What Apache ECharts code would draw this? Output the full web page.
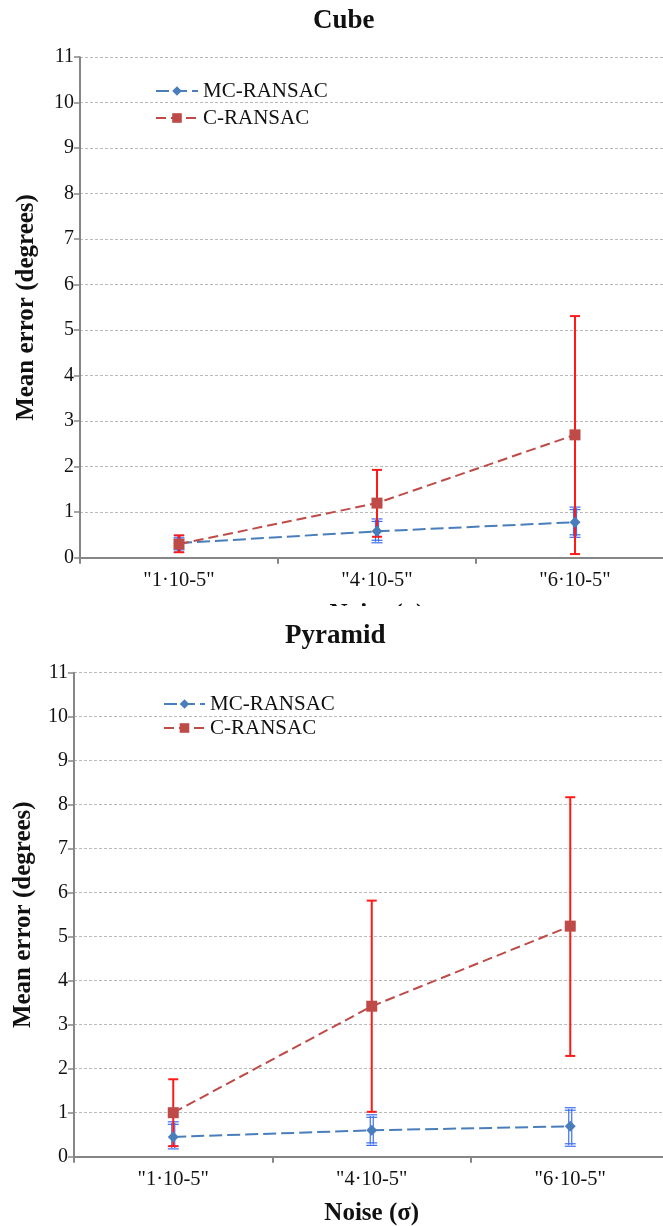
<!DOCTYPE html>
<html>
<head>
<meta charset="utf-8">
<script src="https://cdn.jsdelivr.net/npm/echarts@6/dist/echarts.min.js"></script>
<style>html,body{margin:0;padding:0;background:#fff}#c{width:663px;height:1226px}</style>
</head>
<body>
<div id="c"></div>
<script>
const categories = ['"1·10-5"', '"4·10-5"', '"6·10-5"'];
const seriesNames = ['MC-RANSAC', 'C-RANSAC'];
const yTicks = [0, 11, 1];

const cubeMC = [0.32, 0.58, 0.78];
const cubeMCLow = [0.14, 0.35, 0.47];
const cubeMCHigh = [0.47, 0.83, 1.09];
const cubeC = [0.30, 1.20, 2.70];
const cubeCLow = [0.12, 0.46, 0.08];
const cubeCHigh = [0.49, 1.93, 5.31];

const pyrMC = [0.45, 0.60, 0.69];
const pyrMCLow = [0.20, 0.28, 0.26];
const pyrMCHigh = [0.77, 0.93, 1.09];
const pyrC = [1.00, 3.42, 5.24];
const pyrCLow = [0.24, 1.02, 2.29];
const pyrCHigh = [1.76, 5.82, 8.17];

const FONT = '"Liberation Serif", "DejaVu Serif", serif';
const BLUE = '#4a7ebb';
const RED = '#be4b48';
const EBLUE = '#3d6ff0';
const ERED = '#ff1a1a';

function errData(low, high) {
  return categories.map((c, i) => [i, low[i], high[i]]);
}

function errRender(color, doubled) {
  return function (params, api) {
    const x = api.value(0);
    const lo = api.coord([x, api.value(1)]);
    const hi = api.coord([x, api.value(2)]);
    const cx = lo[0];
    const hw = doubled ? 5.5 : 5;
    const children = [];
    const st = { stroke: color, lineWidth: doubled ? 1.2 : 2 };
    if (doubled) {
      children.push({ type: 'line', shape: { x1: cx - 1.5, y1: hi[1], x2: cx - 1.5, y2: lo[1] }, style: st });
      children.push({ type: 'line', shape: { x1: cx + 1.5, y1: hi[1], x2: cx + 1.5, y2: lo[1] }, style: st });
      [hi[1] - 1, hi[1] + 1.5, lo[1] - 1.5, lo[1] + 1].forEach(y => {
        children.push({ type: 'line', shape: { x1: cx - hw, y1: y, x2: cx + hw, y2: y }, style: st });
      });
    } else {
      children.push({ type: 'line', shape: { x1: cx, y1: hi[1], x2: cx, y2: lo[1] }, style: st });
      [hi[1], lo[1]].forEach(y => {
        children.push({ type: 'line', shape: { x1: cx - hw, y1: y, x2: cx + hw, y2: y }, style: st });
      });
    }
    return { type: 'group', children: children };
  };
}

function xAxisCfg(gridIndex) {
  return {
    type: 'category', gridIndex: gridIndex, data: categories,
    boundaryGap: true,
    axisLine: { lineStyle: { color: '#868686', width: 2 } },
    axisTick: { show: true, alignWithLabel: false, length: 6, lineStyle: { color: '#868686', width: 2 } },
    axisLabel: { color: '#111', fontFamily: FONT, fontSize: 20.5, margin: 12 },
    name: 'Noise (σ)', nameLocation: 'middle', nameGap: 44,
    nameTextStyle: { fontFamily: FONT, fontSize: 25, fontWeight: 'bold', color: '#111' },
    splitLine: { show: false }
  };
}

function yAxisCfg(gridIndex, nameGap) {
  return {
    type: 'value', gridIndex: gridIndex, min: yTicks[0], max: yTicks[1], interval: yTicks[2],
    axisLine: { show: true, lineStyle: { color: '#868686', width: 2 } },
    axisTick: { show: true, length: 6, lineStyle: { color: '#868686', width: 1.5 } },
    axisLabel: { color: '#111', fontFamily: FONT, fontSize: 20, margin: 6 },
    splitLine: { show: true, lineStyle: { color: '#b9b9b9', type: [3, 2], width: 1 } },
    name: 'Mean error (degrees)', nameLocation: 'middle', nameGap: nameGap, nameRotate: 90,
    nameTextStyle: { fontFamily: FONT, fontSize: 25, fontWeight: 'bold', color: '#111' }
  };
}

function lineSeries(name, data, gi, color, symbol, size, dash) {
  return {
    type: 'line', name: name, data: data, xAxisIndex: gi, yAxisIndex: gi,
    symbol: symbol, symbolSize: size, z: 5,
    itemStyle: { color: color },
    lineStyle: { color: color, width: 2, type: dash },
    emphasis: { disabled: true }, animation: false
  };
}

function errSeries(low, high, gi, color, doubled) {
  return {
    type: 'custom', xAxisIndex: gi, yAxisIndex: gi, z: 3,
    data: errData(low, high), renderItem: errRender(color, doubled),
    silent: true, animation: false
  };
}

function legendCfg(left, top, w, gap) {
  return {
    data: seriesNames, orient: 'vertical', left: left, top: top,
    itemWidth: w, itemHeight: 12, itemGap: gap, selectedMode: false,
    textStyle: { fontFamily: FONT, fontSize: 21, color: '#111', lineHeight: 22 }
  };
}

const chart = echarts.init(document.getElementById('c'), null, { renderer: 'canvas' });
chart.setOption({
  backgroundColor: '#fff',
  animation: false,
  title: [
    { text: 'Cube', left: 308, top: 3, textStyle: { fontFamily: FONT, fontSize: 27, fontWeight: 'bold', color: '#111' } }
  ],
  legend: [legendCfg(150, 75, 42, 5), legendCfg(158, 688, 41, 2)],
  grid: [
    { left: 80, right: -11, top: 57.2, bottom: 668.3, outerBoundsMode: 'none', containLabel: false },
    { left: 74, right: -6.5, top: 672.7, bottom: 69.3, outerBoundsMode: 'none', containLabel: false }
  ],
  xAxis: [xAxisCfg(0), xAxisCfg(1)],
  yAxis: [yAxisCfg(0, 41), yAxisCfg(1, 38)],
  series: [
    errSeries(cubeMCLow, cubeMCHigh, 0, EBLUE, true),
    errSeries(cubeCLow, cubeCHigh, 0, ERED, false),
    lineSeries(seriesNames[0], cubeMC, 0, BLUE, 'diamond', 11, [13, 5]),
    lineSeries(seriesNames[1], cubeC, 0, RED, 'rect', 11, [10, 5]),
    errSeries(pyrMCLow, pyrMCHigh, 1, EBLUE, true),
    errSeries(pyrCLow, pyrCHigh, 1, ERED, false),
    lineSeries(seriesNames[0], pyrMC, 1, BLUE, 'diamond', 11, [13, 5]),
    lineSeries(seriesNames[1], pyrC, 1, RED, 'rect', 11, [10, 5])
  ],
  graphic: [
    { type: 'rect', shape: { x: 0, y: 606, width: 663, height: 40 }, style: { fill: '#fff' }, z: 100 },
    { type: 'text', x: 285, y: 623, z: 101,
      style: { text: 'Pyramid', font: 'bold 27px "Liberation Serif", "DejaVu Serif", serif', fill: '#111', textVerticalAlign: 'top' } }
  ]
});
</script>
</body>
</html>
